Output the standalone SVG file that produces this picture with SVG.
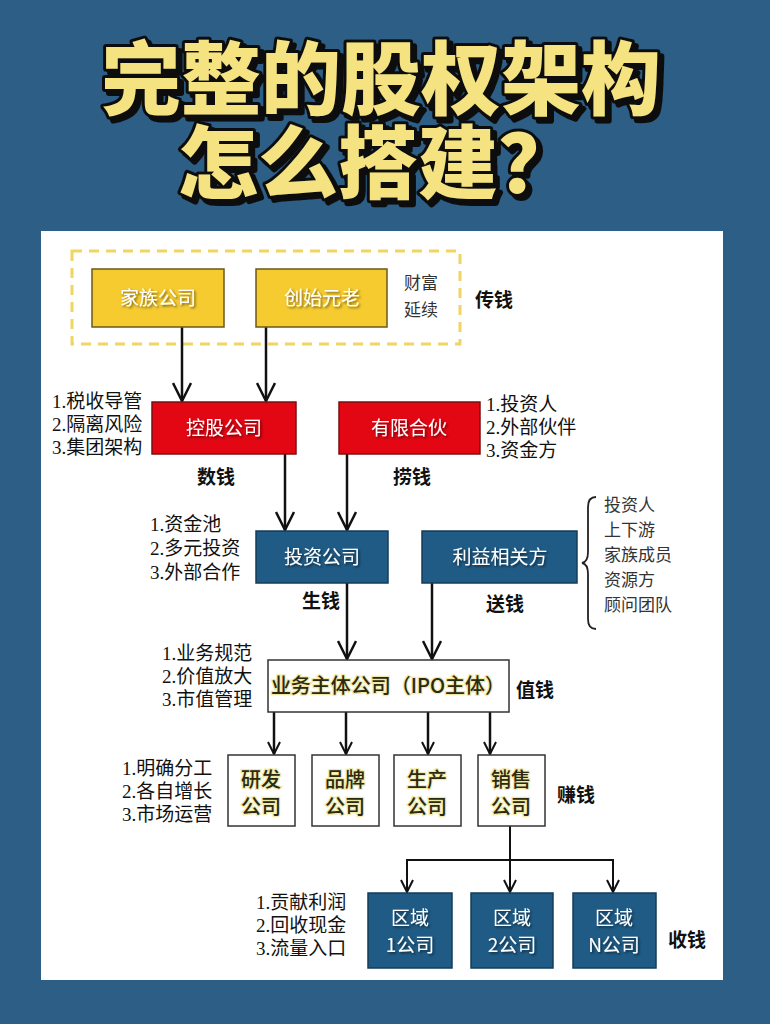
<svg xmlns="http://www.w3.org/2000/svg" width="770" height="1024" viewBox="0 0 770 1024">
<defs>
<marker id="ah" viewBox="0 0 20 20" refX="19" refY="10" markerWidth="20" markerHeight="20" markerUnits="userSpaceOnUse" orient="auto">
<path d="M1,1 L19,10 L1,19" fill="none" stroke="#111" stroke-width="2.5"/>
</marker>
<marker id="ahs" viewBox="0 0 14 14" refX="13" refY="7" markerWidth="14" markerHeight="14" markerUnits="userSpaceOnUse" orient="auto">
<path d="M1,1 L13,7 L1,13" fill="none" stroke="#111" stroke-width="2"/>
</marker>
<filter id="sh" x="-10%" y="-30%" width="130%" height="160%">
<feDropShadow dx="1.5" dy="1.5" stdDeviation="0.8" flood-color="#000" flood-opacity="0.55"/>
</filter>
<filter id="tsh" x="-5%" y="-10%" width="115%" height="130%">
<feDropShadow dx="4" dy="4" stdDeviation="0" flood-color="#111" flood-opacity="1"/>
</filter>
</defs>
<style>
.title{font-family:"Noto Sans CJK SC","Noto Sans",sans-serif;font-weight:900;font-size:80px;fill:#F5E382;stroke:#111;stroke-width:6;paint-order:stroke;stroke-linejoin:round;filter:url(#tsh)}
.yel{fill:#F6CB2F;stroke:#6b5a1a;stroke-width:1.5}
.red{fill:#E30613;stroke:#7a1010;stroke-width:1.5}
.blue{fill:#1F5B85;stroke:#163c58;stroke-width:1.5}
.wbox{fill:#fff;stroke:#333;stroke-width:1.5}
.nt{font-family:"Noto Sans CJK SC","Noto Sans",sans-serif;font-size:19px;fill:#fff;text-anchor:middle;filter:url(#sh)}
.dt{font-family:"Noto Sans CJK SC","Noto Sans",sans-serif;font-size:20px;font-weight:500;fill:#2a2a12;text-anchor:middle;stroke:#f1e9a8;stroke-width:2.5;paint-order:stroke}
.ls{font-family:"Liberation Serif","Noto Sans CJK SC",serif;font-size:19px;fill:#111}
.lb{font-family:"Liberation Serif","Noto Sans CJK SC",serif;font-size:19px;font-weight:bold;fill:#111}
.st{font-family:"Noto Sans CJK SC","Noto Sans",sans-serif;font-size:17px;fill:#333}
.con{fill:none;stroke:#111;stroke-width:2.5}
.cons{fill:none;stroke:#111;stroke-width:2}
</style>
<rect x="0" y="0" width="770" height="1024" fill="#2C5E86"/>
<g id="title">
<text class="title" x="101" y="108">完整的股权架构</text>
<text class="title" x="178" y="192">怎么搭建？</text>
</g>
<rect x="41" y="231" width="682" height="749" fill="#fff"/>
<rect x="72" y="251" width="388" height="93" fill="none" stroke="#F0D564" stroke-width="3" stroke-dasharray="10,7"/>
<g id="connectors">
<line class="con" x1="182" y1="327" x2="182" y2="401" marker-end="url(#ah)"/>
<line class="con" x1="266" y1="327" x2="266" y2="401" marker-end="url(#ah)"/>
<line class="con" x1="285" y1="454" x2="285" y2="530" marker-end="url(#ah)"/>
<line class="con" x1="347" y1="454" x2="347" y2="530" marker-end="url(#ah)"/>
<line class="con" x1="347" y1="583" x2="347" y2="659" marker-end="url(#ah)"/>
<line class="con" x1="432" y1="583" x2="432" y2="659" marker-end="url(#ah)"/>
<line class="con" x1="274" y1="712" x2="274" y2="754" marker-end="url(#ahs)"/>
<line class="con" x1="346" y1="712" x2="346" y2="754" marker-end="url(#ahs)"/>
<line class="con" x1="428" y1="712" x2="428" y2="754" marker-end="url(#ahs)"/>
<line class="con" x1="490" y1="712" x2="490" y2="754" marker-end="url(#ahs)"/>
<line class="cons" x1="510" y1="826" x2="510" y2="892" marker-end="url(#ahs)"/>
<polyline class="cons" points="407,892 407,860 613,860 613,892"/>
<line class="cons" x1="407" y1="870" x2="407" y2="892" marker-end="url(#ahs)"/>
<line class="cons" x1="613" y1="870" x2="613" y2="892" marker-end="url(#ahs)"/>
</g>
<g id="n-family"><rect class="yel" x="92" y="269" width="132" height="58"/><text class="nt" x="158" y="305">家族公司</text></g>
<g id="n-founder"><rect class="yel" x="256" y="269" width="131" height="58"/><text class="nt" x="322" y="305">创始元老</text></g>
<g id="n-wealth"><text class="st" x="404" y="289">财富</text><text class="st" x="404" y="316">延续</text><text class="lb" x="475" y="307">传钱</text></g>
<g id="n-holding"><rect class="red" x="152" y="402" width="144" height="52"/><text class="nt" x="224" y="435">控股公司</text></g>
<g id="n-holding-notes"><text class="ls" x="52" y="408">1.税收导管</text><text class="ls" x="52" y="431">2.隔离风险</text><text class="ls" x="52" y="454">3.集团架构</text><text class="lb" x="197" y="484">数钱</text></g>
<g id="n-lp"><rect class="red" x="339" y="402" width="141" height="52"/><text class="nt" x="409" y="435">有限合伙</text></g>
<g id="n-lp-notes"><text class="ls" x="486" y="411">1.投资人</text><text class="ls" x="486" y="434">2.外部伙伴</text><text class="ls" x="486" y="457">3.资金方</text><text class="lb" x="393" y="484">捞钱</text></g>
<g id="n-invest"><rect class="blue" x="256" y="531" width="132" height="52"/><text class="nt" x="322" y="564">投资公司</text></g>
<g id="n-invest-notes"><text class="ls" x="150" y="531">1.资金池</text><text class="ls" x="150" y="555">2.多元投资</text><text class="ls" x="150" y="579">3.外部合作</text><text class="lb" x="302" y="608">生钱</text></g>
<g id="n-stake"><rect class="blue" x="422" y="531" width="155" height="52"/><text class="nt" x="500" y="564">利益相关方</text></g>
<g id="n-stake-notes"><text class="lb" x="486" y="611">送钱</text>
<path d="M596,497 Q588,497 588,507 L588,552 Q588,562 582,563 Q588,564 588,574 L588,619 Q588,629 596,629" fill="none" stroke="#222" stroke-width="1.8"/>
<text class="st" x="604" y="511">投资人</text><text class="st" x="604" y="536">上下游</text><text class="st" x="604" y="561">家族成员</text><text class="st" x="604" y="586">资源方</text><text class="st" x="604" y="611">顾问团队</text></g>
<g id="n-main"><rect class="wbox" x="268" y="660" width="241" height="52"/><text class="dt" x="388" y="693">业务主体公司（IPO主体）</text></g>
<g id="n-main-notes"><text class="ls" x="162" y="660">1.业务规范</text><text class="ls" x="162" y="683">2.价值放大</text><text class="ls" x="162" y="706">3.市值管理</text><text class="lb" x="516" y="697">值钱</text></g>
<g id="n-rd"><rect class="wbox" x="228" y="755" width="67" height="71"/><text class="dt" x="261" y="787">研发</text><text class="dt" x="261" y="814">公司</text></g>
<g id="n-brand"><rect class="wbox" x="312" y="755" width="67" height="71"/><text class="dt" x="345" y="787">品牌</text><text class="dt" x="345" y="814">公司</text></g>
<g id="n-prod"><rect class="wbox" x="394" y="755" width="67" height="71"/><text class="dt" x="427" y="787">生产</text><text class="dt" x="427" y="814">公司</text></g>
<g id="n-sales"><rect class="wbox" x="478" y="755" width="67" height="71"/><text class="dt" x="511" y="787">销售</text><text class="dt" x="511" y="814">公司</text></g>
<g id="n-sub-notes"><text class="ls" x="122" y="775">1.明确分工</text><text class="ls" x="122" y="798">2.各自增长</text><text class="ls" x="122" y="821">3.市场运营</text><text class="lb" x="557" y="802">赚钱</text></g>
<g id="n-r1"><rect class="blue" x="368" y="893" width="84" height="75"/><text class="nt" x="410" y="925">区域</text><text class="nt" x="410" y="952">1公司</text></g>
<g id="n-r2"><rect class="blue" x="471" y="893" width="82" height="75"/><text class="nt" x="512" y="925">区域</text><text class="nt" x="512" y="952">2公司</text></g>
<g id="n-rn"><rect class="blue" x="573" y="893" width="83" height="75"/><text class="nt" x="614" y="925">区域</text><text class="nt" x="614" y="952">N公司</text></g>
<g id="n-region-notes"><text class="ls" x="256" y="909">1.贡献利润</text><text class="ls" x="256" y="932">2.回收现金</text><text class="ls" x="256" y="955">3.流量入口</text><text class="lb" x="668" y="947">收钱</text></g>
</svg>
